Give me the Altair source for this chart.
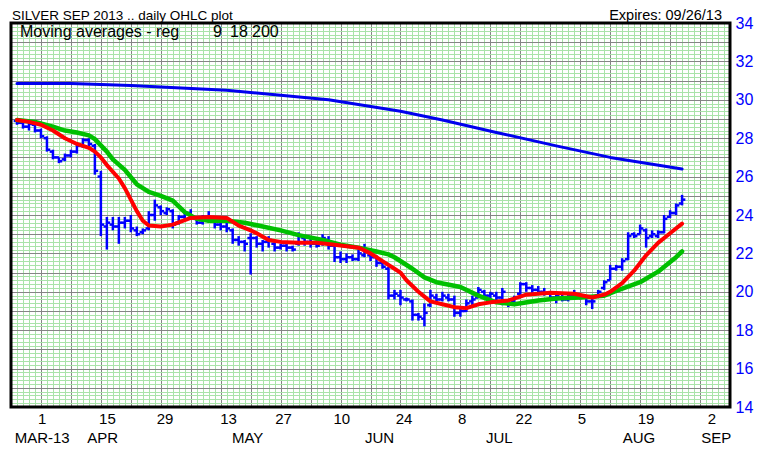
import json
import altair as alt
import pandas as pd
import numpy as np

# ---------------- data ----------------
days = list(range(1, 113))
opens = [28.9, 28.8, 28.6, 28.7, 28.4, 28.0, 27.3, 27.0, 26.9, 27.1,
         27.3, 27.6, 27.9, 27.6, 26.0, 23.4, 23.5, 23.4, 23.6, 23.7,
         23.2, 23.1, 23.3, 24.0, 24.4, 24.1, 24.2, 23.6, 23.9, 24.1,
         23.8, 23.6, 23.9, 23.8, 23.5, 23.4, 23.2, 22.7, 22.6, 22.8,
         22.8, 22.5, 22.6, 22.5, 22.3, 22.4, 22.3, 22.5, 22.8, 22.6,
         22.5, 22.5, 22.7, 22.4, 21.8, 21.7, 21.8, 21.7, 21.9, 21.9,
         21.8, 21.5, 21.2, 19.8, 19.8, 19.6, 19.5, 18.8, 18.6, 19.3,
         19.7, 19.6, 19.7, 19.6, 18.9, 19.0, 19.5, 19.7, 20.0, 19.8,
         19.8, 19.7, 19.5, 19.5, 19.9, 20.4, 20.2, 20.1, 20.0, 19.9,
         19.7, 19.7, 19.6, 19.8, 19.7, 19.7, 19.5, 19.8, 20.2, 20.6,
         21.2, 21.3, 21.7, 23.0, 23.0, 23.2, 22.9, 22.9, 23.1, 23.9,
         24.1, 24.6]
highs = [28.95, 28.9, 28.85, 28.75, 28.5, 28.1, 27.4, 27.0, 27.2, 27.4,
         27.7, 28.0, 28.0, 27.7, 26.3, 23.9, 23.9, 23.9, 23.9, 24.0,
         23.4, 23.3, 24.2, 24.8, 24.5, 24.4, 24.3, 24.0, 24.2, 24.3,
         23.9, 24.0, 24.2, 23.9, 23.6, 23.7, 23.3, 22.9, 22.7, 23.05,
         22.9, 22.7, 22.9, 22.6, 22.5, 22.5, 22.4, 23.1, 22.9, 22.8,
         22.6, 23.0, 22.9, 22.4, 22.1, 22.0, 21.95, 22.2, 22.5, 22.0,
         21.9, 21.6, 21.3, 20.1, 20.1, 19.7, 19.6, 18.9, 19.4, 20.1,
         19.9, 20.0, 19.9, 19.8, 19.2, 19.6, 19.8, 20.25, 20.1, 20.0,
         20.0, 20.2, 19.6, 19.8, 20.5, 20.5, 20.35, 20.3, 20.2, 20.0,
         20.0, 19.9, 19.9, 20.1, 19.9, 19.8, 19.8, 20.1, 20.6, 21.4,
         21.4, 21.75, 23.1, 23.1, 23.5, 23.3, 23.2, 23.2, 24.0, 24.25,
         24.6, 25.05]
lows = [28.7, 28.5, 28.4, 28.3, 28.0, 27.3, 26.9, 26.7, 26.8, 27.0,
        27.2, 27.5, 27.5, 26.1, 22.9, 22.2, 23.2, 22.5, 23.3, 23.1,
        22.9, 23.0, 23.2, 23.7, 24.0, 24.0, 23.3, 23.5, 23.7, 23.8,
        23.5, 23.5, 23.6, 23.3, 23.2, 23.1, 22.5, 22.4, 22.1, 20.9,
        22.3, 22.1, 22.3, 22.1, 22.2, 22.1, 22.1, 22.4, 22.4, 22.3,
        22.3, 22.4, 22.2, 21.55, 21.5, 21.5, 21.6, 21.6, 21.8, 21.6,
        21.3, 21.2, 19.6, 19.6, 19.3, 19.5, 18.5, 18.5, 18.2, 19.2,
        19.5, 19.5, 19.5, 18.7, 18.7, 18.95, 19.3, 19.7, 19.7, 19.5,
        19.5, 19.3, 19.2, 19.4, 19.8, 20.0, 19.9, 19.9, 19.8, 19.6,
        19.4, 19.5, 19.5, 19.6, 19.6, 19.3, 19.1, 19.7, 20.1, 20.6,
        21.1, 21.1, 21.65, 22.8, 23.0, 22.3, 22.8, 22.8, 23.05, 23.85,
        24.0, 24.5]
closes = [28.8, 28.6, 28.75, 28.4, 28.1, 27.4, 27.0, 26.8, 27.1, 27.3,
          27.6, 27.9, 27.7, 26.3, 23.5, 23.6, 23.4, 23.6, 23.7, 23.3,
          23.0, 23.2, 24.0, 24.5, 24.2, 24.3, 23.5, 23.9, 24.1, 23.9,
          23.6, 23.9, 23.8, 23.5, 23.4, 23.3, 22.7, 22.6, 22.5, 22.8,
          22.5, 22.6, 22.7, 22.3, 22.4, 22.3, 22.2, 22.9, 22.6, 22.5,
          22.4, 22.8, 22.4, 21.8, 21.7, 21.8, 21.7, 22.0, 22.2, 21.8,
          21.5, 21.3, 19.8, 19.9, 19.7, 19.6, 18.8, 18.7, 18.9, 19.8,
          19.6, 19.8, 19.6, 18.9, 19.0, 19.4, 19.6, 20.1, 19.8, 19.9,
          19.7, 20.0, 19.4, 19.7, 20.4, 20.2, 20.1, 20.0, 19.9, 19.7,
          19.8, 19.6, 19.8, 19.7, 19.8, 19.5, 19.5, 20.0, 20.5, 21.2,
          21.3, 21.6, 22.9, 22.9, 23.3, 22.8, 23.0, 23.1, 23.8, 24.1,
          24.5, 24.8]

# 9-day moving average (red)
ma9_days = [1, 3, 5, 7, 9, 11, 13, 14, 15, 16, 18, 19, 20, 21, 22, 23, 25, 27,
            30, 33, 36, 38, 40, 41, 43, 45, 48, 51, 54, 58, 60, 61, 62, 64,
            65, 66, 67, 68, 69, 70, 72, 74, 76, 78, 80, 83, 86, 90, 94, 97,
            99, 100, 102, 104, 106, 108, 110, 112]
ma9_vals = [28.95, 28.85, 28.7, 28.4, 28.0, 27.7, 27.5, 27.3, 27.0, 26.6,
            25.9, 25.4, 24.8, 24.2, 23.7, 23.45, 23.4, 23.5, 23.85, 23.9,
            23.85, 23.45, 23.2, 23.05, 22.7, 22.6, 22.55, 22.55, 22.45, 22.3,
            22.0, 21.8, 21.6, 21.2, 21.0, 20.6, 20.3, 20.0, 19.75, 19.5,
            19.35, 19.2, 19.15, 19.35, 19.45, 19.55, 19.85, 19.95, 19.9, 19.7,
            19.85, 20.0, 20.45, 21.1, 21.9, 22.55, 23.05, 23.55]
# 18-day moving average (green)
ma18_days = [1, 4, 7, 9, 11, 13, 14, 16, 17, 19, 21, 23, 25, 27, 29, 31, 33,
             36, 39, 42, 45, 48, 52, 55, 58, 61, 63, 64, 67, 69, 71, 75, 78,
             81, 84, 88, 91, 95, 99, 101, 105, 108, 111, 112]
ma18_vals = [28.95, 28.85, 28.6, 28.4, 28.3, 28.15, 27.95, 27.3, 26.9, 26.35,
             25.6, 25.2, 25.0, 24.75, 24.15, 23.8, 23.7, 23.7, 23.6, 23.4,
             23.2, 22.95, 22.7, 22.45, 22.3, 22.1, 21.95, 21.8, 21.2, 20.75,
             20.5, 20.25, 19.8, 19.45, 19.35, 19.55, 19.65, 19.7, 19.8, 20.05,
             20.5, 21.05, 21.8, 22.1]
# 200-day moving average (blue)
ma200_days = [1, 10, 20, 36, 53, 65, 72, 81, 91, 100, 106, 112]
ma200_vals = [30.85, 30.85, 30.75, 30.5, 30.0, 29.4, 28.95, 28.3, 27.6, 27.0,
              26.7, 26.4]

# axis labels (day-of-month row and month row, positions in trading-day units)
day_labels = ["1", "15", "29", "13", "27", "10", "24", "8", "22", "5", "19", "2"]
day_label_pos = [5.2, 16.1, 25.7, 36.3, 45.5, 55.2, 65.6, 75.3, 85.6, 95.3, 106.0, 117.0]
month_labels = ["MAR-13", "APR", "MAY", "JUN", "JUL", "AUG", "SEP"]
month_pos = [5.2, 15.3, 39.5, 61.5, 81.5, 104.8, 117.7]
price_labels = [14, 16, 18, 20, 22, 24, 26, 28, 30, 32, 34]

# ---------------- chart ----------------
FONT = "Liberation Sans"
W, H = 719, 384
BAR_BLUE = "#0000ff"

xscale = alt.Scale(domain=[0, 120], nice=False, zero=False)
yscale = alt.Scale(domain=[14, 34], nice=False, zero=False)

x_vals = list(range(0, 121))
y_vals = [round(float(v), 1) for v in np.arange(14, 34.001, 0.2)]

GREEN_GRID = "#a9e3a9"
GRAY_GRID = "#858585"

xaxis = alt.Axis(
    values=x_vals, title=None, domain=False, ticks=False, labels=False,
    grid=True, gridWidth=1,
    gridColor={"condition": {"test": "datum.value % 5 == 0", "value": GRAY_GRID},
               "value": GREEN_GRID},
)
yaxis = alt.Axis(
    values=y_vals, orient="right", title=None, domain=False, ticks=False,
    grid=True, gridWidth=1,
    gridColor={"condition": {"test": "abs(datum.value - round(datum.value)) < 0.01", "value": GRAY_GRID},
               "value": GREEN_GRID},
    labelExpr=("indexof(%s, round(datum.value*10)/10) >= 0 ? format(datum.value, 'd') : ''"
               % json.dumps(price_labels)),
    labelOverlap=False, labelFlush=False, labelPadding=5,
    labelFont=FONT, labelFontSize=16, labelColor="#0000ff",
)

bars = pd.DataFrame({"day": days, "open": opens, "high": highs, "low": lows, "close": closes})

hl = alt.Chart(bars).mark_rule(color=BAR_BLUE, strokeWidth=2.5).encode(
    x=alt.X("day:Q", scale=xscale, axis=xaxis),
    y=alt.Y("low:Q", scale=yscale, axis=yaxis),
    y2="high:Q",
)
open_tick = alt.Chart(bars).transform_calculate(xl="datum.day - 0.55").mark_rule(
    color=BAR_BLUE, strokeWidth=2.5).encode(
    x=alt.X("xl:Q", scale=xscale, axis=xaxis), x2="day:Q",
    y=alt.Y("open:Q", scale=yscale, axis=yaxis),
)
close_tick = alt.Chart(bars).transform_calculate(xr="datum.day + 0.55").mark_rule(
    color=BAR_BLUE, strokeWidth=2.5).encode(
    x=alt.X("day:Q", scale=xscale, axis=xaxis), x2="xr:Q",
    y=alt.Y("close:Q", scale=yscale, axis=yaxis),
)


def ma_line(dd, vv, color, width):
    df = pd.DataFrame({"day": dd, "ma": vv})
    return alt.Chart(df).mark_line(color=color, strokeWidth=width, strokeJoin="round",
                                   strokeCap="round").encode(
        x=alt.X("day:Q", scale=xscale, axis=xaxis),
        y=alt.Y("ma:Q", scale=yscale, axis=yaxis),
    )


green = ma_line(ma18_days, ma18_vals, "#00c000", 4.5)
red = ma_line(ma9_days, ma9_vals, "#ff0000", 4)
blue = ma_line(ma200_days, ma200_vals, "#0000ee", 3)

day_row = alt.Chart(pd.DataFrame({"d": day_labels, "pos": day_label_pos})).mark_text(
    font=FONT, fontSize=15, color="black", baseline="middle", align="center").encode(
    x=alt.X("pos:Q", scale=xscale, axis=xaxis), y=alt.value(396), text="d:N")
month_row = alt.Chart(pd.DataFrame({"m": month_labels, "pos": month_pos})).mark_text(
    font=FONT, fontSize=15, color="black", baseline="middle", align="center").encode(
    x=alt.X("pos:Q", scale=xscale, axis=xaxis), y=alt.value(415), text="m:N")


def label(txt, x, y, size, align="left"):
    return alt.Chart(pd.DataFrame({"t": [txt]})).mark_text(
        font=FONT, fontSize=size, color="black", baseline="middle", align=align).encode(
        x=alt.value(x), y=alt.value(y), text="t:N")


title = label("SILVER SEP 2013 .. daily OHLC plot", 1, -7.5, 13.5)
expires = label("Expires: 09/26/13", 711, -7.5, 14.5, align="right")
ma_txt = label("Moving averages - reg", 9, 9, 16)
ma_9 = label("9", 202, 9, 16)
ma_18 = label("18", 219, 9, 16)
ma_200 = label("200", 241, 9, 16)

frame = alt.Chart(pd.DataFrame({"a": [0]})).mark_rect(
    fillOpacity=0, stroke="black", strokeWidth=3).encode(
    x=alt.value(0), x2=alt.value(W), y=alt.value(0), y2=alt.value(H))

chart = alt.layer(
    hl, open_tick, close_tick, green, red, blue, day_row, month_row,
    title, expires, ma_txt, ma_9, ma_18, ma_200, frame,
).properties(
    width=W, height=H,
    autosize=alt.AutoSizeParams(type="none"),
    padding={"left": 3, "top": 15, "right": 24, "bottom": 51},
    background="white",
).configure_view(strokeWidth=0)

chart.save("out.html", embed_options={"renderer": "svg", "actions": False})
